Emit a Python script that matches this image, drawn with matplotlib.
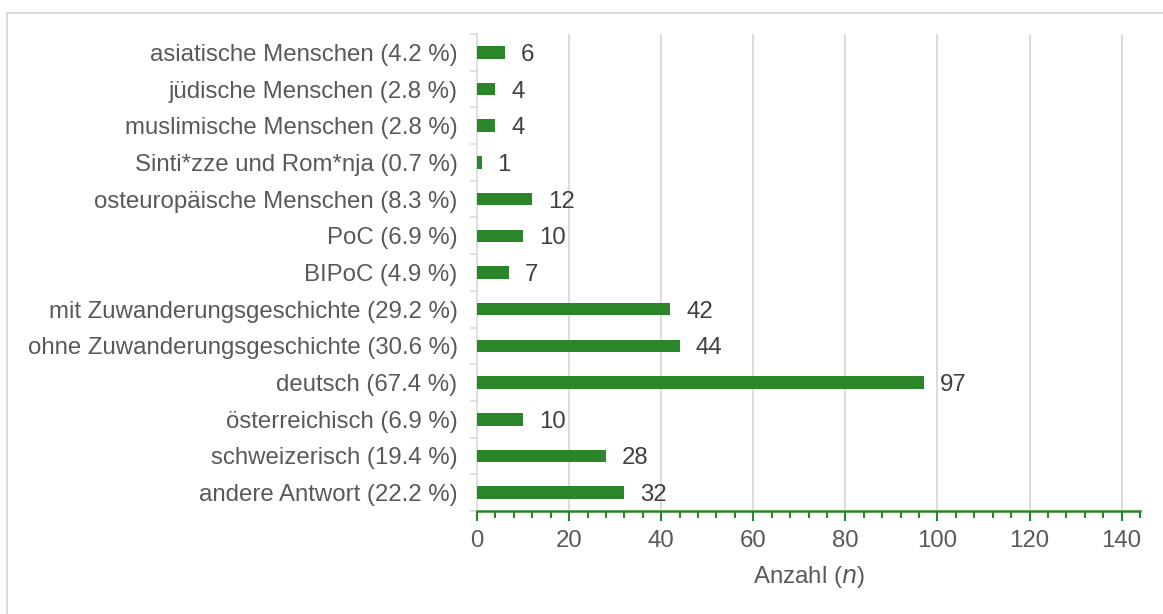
import matplotlib
matplotlib.use("Agg")
import matplotlib.pyplot as plt
from matplotlib.ticker import MultipleLocator
from matplotlib.patches import Rectangle

plt.rcParams['font.family'] = ['Liberation Sans', 'DejaVu Sans']

categories = [
    "asiatische Menschen (4.2 %)",
    "jüdische Menschen (2.8 %)",
    "muslimische Menschen (2.8 %)",
    "Sinti*zze und Rom*nja (0.7 %)",
    "osteuropäische Menschen (8.3 %)",
    "PoC (6.9 %)",
    "BIPoC (4.9 %)",
    "mit Zuwanderungsgeschichte (29.2 %)",
    "ohne Zuwanderungsgeschichte (30.6 %)",
    "deutsch (67.4 %)",
    "österreichisch (6.9 %)",
    "schweizerisch (19.4 %)",
    "andere Antwort (22.2 %)",
]
counts = [6, 4, 4, 1, 12, 10, 7, 42, 44, 97, 10, 28, 32]

bar_color = "#2A8629"
grid_color = "#D9D9D9"
text_color = "#595959"
value_color = "#404040"
fs = 17.3

W, H = 1163, 614
fig = plt.figure(figsize=(W / 100, H / 100), dpi=100)
ax = fig.add_axes([477 / W, 1 - 511 / H, (1140 - 477) / W, (511 - 34) / H])

n = len(categories)
ypos = [n - 1 - i for i in range(n)]
ax.barh(ypos, counts, height=0.34, color=bar_color, zorder=3)
for y, v in zip(ypos, counts):
    ax.annotate(str(v), xy=(v, y), xytext=(11.5, 0), textcoords="offset points",
                va="center_baseline", ha="left", fontsize=fs, color=value_color)

ax.set_xlim(0, 144)
ax.set_ylim(-0.5, n - 0.5)
ax.set_yticks(ypos)
ax.set_yticklabels(categories, fontsize=fs, color=text_color,
                   va="center_baseline")
ax.set_yticks([i - 0.5 for i in range(n + 1)], minor=True)
ax.tick_params(axis="y", which="major", length=0, pad=14)
ax.tick_params(axis="y", which="minor", length=5, color=grid_color, width=1.2)

ax.set_xticks(range(0, 141, 20))
ax.xaxis.set_minor_locator(MultipleLocator(4))
ax.tick_params(axis="x", which="major", length=7, color=bar_color, width=1.5,
               labelsize=fs, labelcolor=text_color, pad=7)
ax.tick_params(axis="x", which="minor", length=5, color=bar_color, width=1.5)

for x in range(20, 141, 20):
    ax.axvline(x, color=grid_color, lw=1.3, zorder=0)

for s in ["top", "right"]:
    ax.spines[s].set_visible(False)
ax.spines["left"].set_color(grid_color)
ax.spines["left"].set_linewidth(1.2)
ax.spines["bottom"].set_color(bar_color)
ax.spines["bottom"].set_linewidth(1.8)

ax.set_xlabel("Anzahl ($\\it{n}$)", fontsize=fs, color=text_color, labelpad=8)

fig.patches.append(Rectangle((7 / W, -0.1), 1.2, 1 - 13 / H + 0.1,
                             transform=fig.transFigure, fill=False,
                             edgecolor=grid_color, lw=1.3, zorder=0))

fig.savefig("out.png", dpi=100)
